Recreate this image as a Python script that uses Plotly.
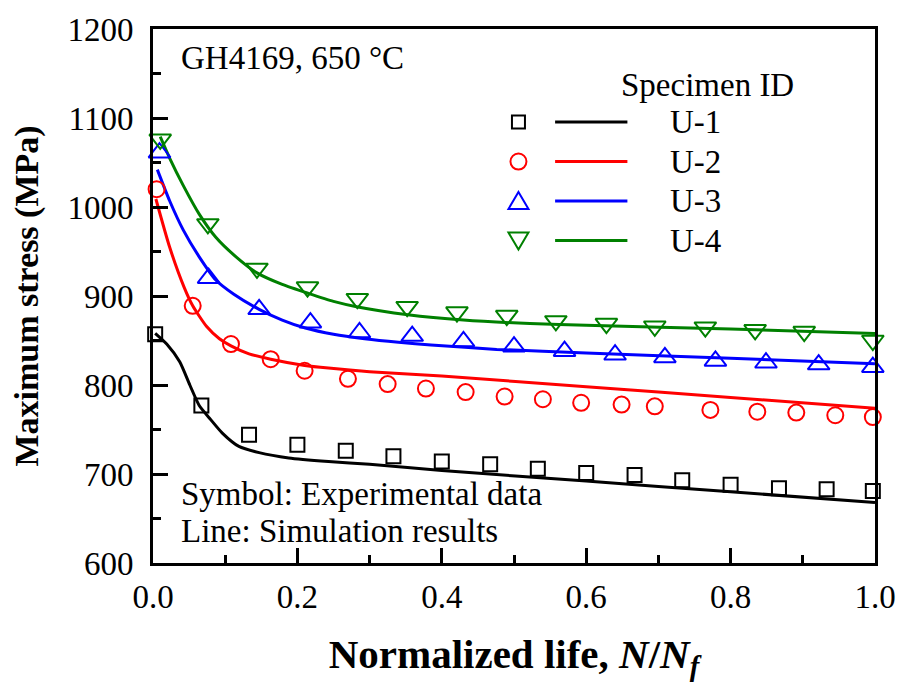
import plotly.graph_objects as go

# ---- Experimental data (symbols) ----
u1_exp_x = [0.003, 0.067, 0.133, 0.200, 0.267, 0.333, 0.400, 0.467, 0.533, 0.600, 0.667, 0.733, 0.800, 0.867, 0.933, 0.997]
u1_exp_y = [857, 777, 744, 733, 726, 720, 714, 711, 706, 701, 699, 693, 688, 684, 683, 681]

u2_exp_x = [0.005, 0.055, 0.108, 0.163, 0.210, 0.270, 0.325, 0.378, 0.433, 0.487, 0.540, 0.593, 0.649, 0.695, 0.772, 0.837, 0.891, 0.945, 0.997]
u2_exp_y = [1020, 889, 846, 829, 816, 807, 801, 796, 792, 787, 784, 780, 778, 776, 772, 770, 769, 766, 764]

u3_exp_x = [0.009, 0.077, 0.147, 0.218, 0.286, 0.359, 0.430, 0.500, 0.570, 0.640, 0.709, 0.779, 0.849, 0.922, 0.997]
u3_exp_y = [1061, 920, 885, 870, 859, 855, 849, 843, 838, 834, 831, 827, 825, 823, 820]

u4_exp_x = [0.010, 0.076, 0.144, 0.214, 0.283, 0.352, 0.421, 0.490, 0.558, 0.628, 0.695, 0.765, 0.834, 0.902, 0.997]
u4_exp_y = [1076, 981, 931, 910, 897, 888, 882, 878, 872, 869, 866, 865, 862, 860, 850]

# ---- Simulation results (lines) ----
u1_sim_x = [0.003, 0.019, 0.037, 0.051, 0.064, 0.078, 0.096, 0.119, 0.147, 0.188, 0.243, 0.300, 0.400, 0.600, 0.800, 1.000]
u1_sim_y = [858, 846, 826, 800, 777, 763, 746, 731, 724, 718, 714, 711, 704, 692, 680, 668]

u2_sim_x = [0.004, 0.023, 0.043, 0.055, 0.074, 0.092, 0.108, 0.133, 0.163, 0.210, 0.243, 0.300, 0.400, 0.600, 0.800, 1.000]
u2_sim_y = [1009, 955, 910, 889, 866, 852, 844, 835, 829, 822, 819, 815, 810, 798, 786, 774]

u3_sim_x = [0.006, 0.023, 0.042, 0.064, 0.087, 0.112, 0.147, 0.179, 0.211, 0.250, 0.293, 0.340, 0.385, 0.476, 0.600, 0.800, 1.000]
u3_sim_y = [1042, 1007, 974, 944, 918, 902, 885, 873, 864, 857, 852, 848, 845, 840, 836, 830, 824]

u4_sim_x = [0.010, 0.023, 0.042, 0.064, 0.087, 0.115, 0.144, 0.179, 0.215, 0.250, 0.282, 0.353, 0.430, 0.522, 0.600, 0.800, 1.000]
u4_sim_y = [1079, 1055, 1024, 992, 966, 944, 926, 913, 903, 894, 888, 879, 873, 869, 867, 863, 858]

specimen_ids = ["U-1", "U-2", "U-3", "U-4"]
x_ticks = [0.0, 0.2, 0.4, 0.6, 0.8, 1.0]
y_ticks = [600, 700, 800, 900, 1000, 1100, 1200]

FONT = "Liberation Serif"
TXT = 33
colors = ["#000000", "#ff0000", "#0000ff", "#008000"]
symbols = ["square-open", "circle-open", "triangle-up-open", "triangle-down-open"]
sizes = [14, 16, 19, 19]

exp_sets = [(u1_exp_x, u1_exp_y), (u2_exp_x, u2_exp_y), (u3_exp_x, u3_exp_y), (u4_exp_x, u4_exp_y)]
sim_sets = [(u1_sim_x, u1_sim_y), (u2_sim_x, u2_sim_y), (u3_sim_x, u3_sim_y), (u4_sim_x, u4_sim_y)]

fig = go.Figure()
for (sx, sy), c, name in zip(sim_sets, colors, specimen_ids):
    fig.add_trace(go.Scatter(
        x=sx, y=sy, mode="lines", name=name + " simulation",
        line=dict(color=c, width=3, shape="spline", smoothing=0.6),
        showlegend=False, cliponaxis=False,
    ))
for (ex, ey), c, sym, sz, name in zip(exp_sets, colors, symbols, sizes, specimen_ids):
    fig.add_trace(go.Scatter(
        x=ex, y=ey, mode="markers", name=name + " experiment",
        marker=dict(symbol=sym, size=sz, color=c, line=dict(color=c, width=2)),
        showlegend=False, cliponaxis=False,
    ))

# ---- Hand-built legend: symbol, line sample, label ----
PW, PH, L, B = 729.0, 540.0, 153.0, 563.0
def px(x):
    return (x - L) / PW
def py(y):
    return (B - y) / PH

shapes = []
annotations = []
row_y = [117, 157, 197, 237]
mx = px(522)
for i, (c, ry) in enumerate(zip(colors, row_y)):
    yy = py(ry)
    common = dict(xref="paper", yref="paper", line=dict(color=c, width=2),
                  xsizemode="pixel", ysizemode="pixel", xanchor=mx, yanchor=yy)
    if i == 0:
        shapes.append(dict(type="rect", x0=-6.5, x1=6.5, y0=-6.5, y1=6.5, **common))
    elif i == 1:
        shapes.append(dict(type="circle", x0=-8, x1=8, y0=-8, y1=8, **common))
    elif i == 2:
        shapes.append(dict(type="path", path="M-10,-8 L10,-8 L0,9 Z", **common))
    else:
        shapes.append(dict(type="path", path="M-10,8 L10,8 L0,-9 Z", **common))
    shapes.append(dict(type="line", xref="paper", yref="paper",
                       x0=px(559), x1=px(632), y0=yy, y1=yy,
                       line=dict(color=c, width=3)))
    annotations.append(dict(text=specimen_ids[i], xref="paper", yref="paper",
                            x=px(673), y=yy, xanchor="left", yanchor="middle",
                            showarrow=False, font=dict(family=FONT, size=TXT, color="#000")))

annotations.append(dict(text="Specimen ID", xref="paper", yref="paper",
                        x=px(713), y=py(80), xanchor="center", yanchor="middle",
                        showarrow=False, font=dict(family=FONT, size=TXT, color="#000")))
annotations.append(dict(text="GH4169, 650 \u00b0C", xref="paper", yref="paper",
                        x=px(179), y=py(52), xanchor="left", yanchor="middle",
                        showarrow=False, font=dict(family=FONT, size=TXT, color="#000")))
annotations.append(dict(text="Symbol: Experimental data", xref="paper", yref="paper",
                        x=px(179), y=py(493), xanchor="left", yanchor="middle",
                        showarrow=False, font=dict(family=FONT, size=TXT, color="#000")))
annotations.append(dict(text="Line: Simulation results", xref="paper", yref="paper",
                        x=px(179), y=py(531), xanchor="left", yanchor="middle",
                        showarrow=False, font=dict(family=FONT, size=TXT, color="#000")))

axis_common = dict(
    showline=True, linecolor="#000", linewidth=3, mirror=True,
    ticks="inside", ticklen=15, tickwidth=3, tickcolor="#000",
    showgrid=False, zeroline=False,
    tickfont=dict(family=FONT, size=TXT, color="#000"),
)

fig.update_layout(
    width=908, height=693,
    margin=dict(l=153, r=26, t=23, b=130),
    paper_bgcolor="white", plot_bgcolor="white",
    shapes=shapes, annotations=annotations,
    xaxis=dict(range=[0, 1], tickvals=x_ticks, ticktext=[f"{v:.1f}" for v in x_ticks],
               minor=dict(ticks="inside", ticklen=8, tickwidth=3, tickcolor="#000", dtick=0.1, showgrid=False),
               ticklabelstandoff=2,
               title=dict(text="<b>Normalized life, <i>N</i>/<i>N</i><sub><i>f</i></sub></b>",
                          font=dict(family=FONT, size=41, color="#000"), standoff=26),
               **axis_common),
    yaxis=dict(range=[600, 1200], tickvals=y_ticks,
               minor=dict(ticks="inside", ticklen=8, tickwidth=3, tickcolor="#000", dtick=50, showgrid=False),
               ticklabelstandoff=10,
               title=dict(text="<b>Maximum stress (MPa)</b>",
                          font=dict(family=FONT, size=34, color="#000"), standoff=19),
               **axis_common),
)

fig.write_html("out.html")
